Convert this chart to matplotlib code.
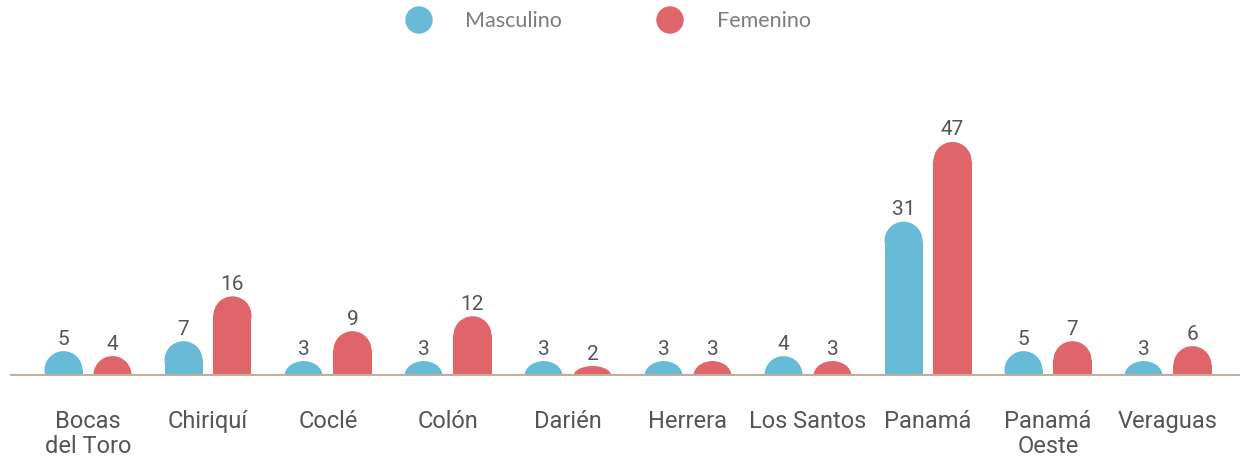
import matplotlib
matplotlib.use("Agg")
import matplotlib.pyplot as plt
from matplotlib.patches import Rectangle, Ellipse
import numpy as np

# datos
provincias = ["Bocas\ndel Toro", "Chiriquí", "Coclé", "Colón", "Darién",
              "Herrera", "Los Santos", "Panamá", "Panamá\nOeste", "Veraguas"]
masculino = [5, 7, 3, 3, 3, 3, 4, 31, 5, 3]
femenino = [4, 16, 9, 12, 2, 3, 3, 47, 7, 6]
series = ["Masculino", "Femenino"]
colores = ["#67bbd6", "#e0656b"]

narrow = ["Roboto", "DejaVu Sans"]
texto = "#555555"

W, H = 1241, 460
fig = plt.figure(figsize=(W / 100, H / 100), dpi=100)
ax = fig.add_axes([10 / W, 83 / H, 1230 / W, 300 / H])
ymax = 300 / 4.98
ax.set_xlim(-0.65, 9.6)
ax.set_ylim(0, ymax)
ax.axis("off")

ancho = 0.317
desp = 0.204
# radio de la punta redondeada en unidades de datos (y)
px_por_x = 1230 / (9.6 + 0.65)
px_por_y = 300 / ymax
r_y = (ancho / 2) * px_por_x / px_por_y

x = np.arange(len(provincias))


def barra(xc, h, color):
    ry = min(h, r_y)
    base = h - ry
    if base > 0:
        ax.add_patch(Rectangle((xc - ancho / 2, 0), ancho, base, color=color, lw=0))
    ax.add_patch(Ellipse((xc, base), ancho, 2 * ry, color=color, lw=0))


for vals, off, col in [(masculino, -desp, colores[0]), (femenino, desp, colores[1])]:
    for xi, v in zip(x, vals):
        barra(xi + off, v, col)
        ax.text(xi + off, v + 0.7, str(v), ha="center", va="bottom",
                fontsize=15, color=texto, family=narrow)

ax.axhline(0, color="#bfb09e", lw=3, zorder=5)

for xi, nombre in zip(x, provincias):
    ax.text(xi, -6.6, nombre, ha="center", va="top", fontsize=17,
            color=texto, family=narrow, linespacing=1.12, clip_on=False)

# leyenda
for cx, tx, nombre, col in [(419, 465, series[0], colores[0]), (670, 717, series[1], colores[1])]:
    fig.add_artist(Ellipse((cx / W, 1 - 21 / H), 26 / W, 26 / H, color=col,
                           transform=fig.transFigure))
    fig.text(tx / W, 1 - 21 / H, nombre, ha="left", va="center", fontsize=15.5,
             color="#7c7c7c", family=["Lato", "DejaVu Sans"])

fig.savefig("out.png", dpi=100)
